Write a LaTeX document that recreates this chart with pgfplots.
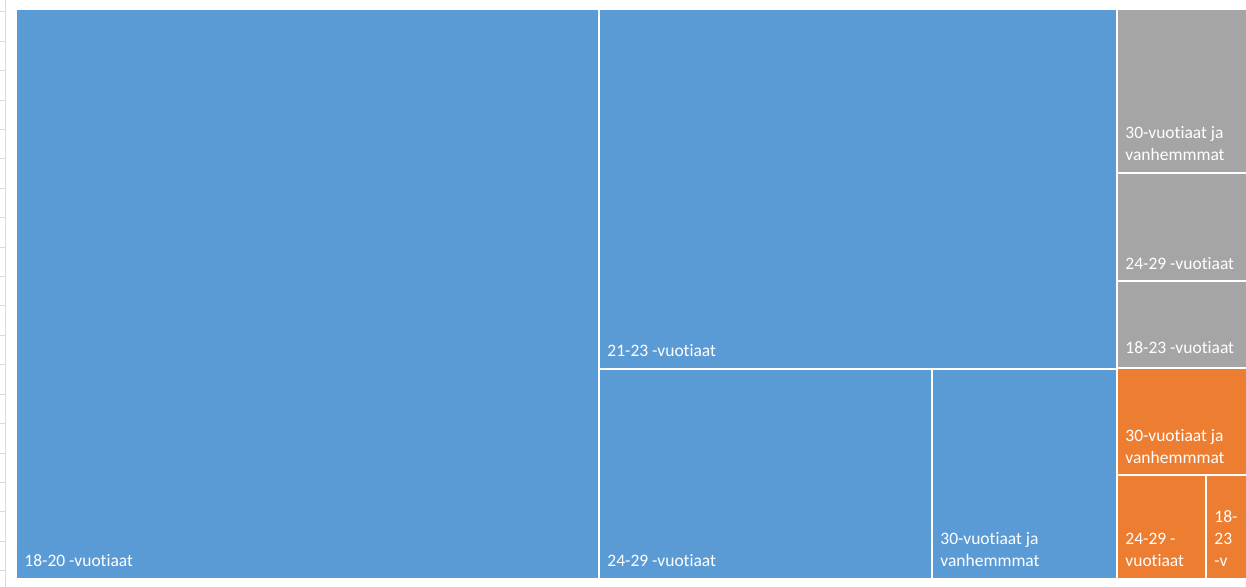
\documentclass[border=0pt]{standalone}
\usepackage{pgfplots}
\pgfplotsset{compat=1.18}
\usepackage{fontspec}
\setmainfont{Carlito}[Ligatures={NoCommon}]

\definecolor{tmblue}{HTML}{5B9BD5}
\definecolor{tmgray}{HTML}{A5A5A5}
\definecolor{tmorange}{HTML}{ED7D31}
\definecolor{cellgrid}{HTML}{D9D9D9}

\begin{document}
\begin{tikzpicture}[
    tile/.style={draw=white, line width=1pt},
    lbl/.style={anchor=base west, inner sep=0pt, text=white,
        font=\fontsize{8.75}{11}\selectfont},
]
\begin{axis}[
    scale only axis,
    width=623pt, height=293.5pt,
    xmin=0, xmax=1246,
    ymin=0, ymax=587,
    y dir=reverse,
    hide axis,
    clip=true,
    axis background/.style={fill=white},
]

% sheet gridlines at the left edge
\addplot[cellgrid, line width=0.5pt] coordinates {(5,0) (5,587)};
\foreach \gy in {12,41.4,70.8,100.2,129.6,159,188.4,217.8,247.2,276.6,
                 306,335.4,364.8,394.2,423.6,453,482.4,511.8,541.2,570.6} {
    \edef\tmp{\noexpand\addplot[cellgrid, line width=0.5pt] coordinates {(0,\gy) (5,\gy)};}
    \tmp
}

% blue group
\addplot[tile, fill=tmblue] coordinates {(15.5,9.5) (599,9.5) (599,578.5) (15.5,578.5)} -- cycle;
\addplot[tile, fill=tmblue] coordinates {(599,9.5) (1117,9.5) (1117,369) (599,369)} -- cycle;
\addplot[tile, fill=tmblue] coordinates {(599,369) (932,369) (932,578.5) (599,578.5)} -- cycle;
\addplot[tile, fill=tmblue] coordinates {(932,369) (1117,369) (1117,578.5) (932,578.5)} -- cycle;

% gray group
\addplot[tile, fill=tmgray] coordinates {(1117,9.5) (1262,9.5) (1262,173) (1117,173)} -- cycle;
\addplot[tile, fill=tmgray] coordinates {(1117,173) (1262,173) (1262,281) (1117,281)} -- cycle;
\addplot[tile, fill=tmgray] coordinates {(1117,281) (1262,281) (1262,367.5) (1117,367.5)} -- cycle;

% orange group
\addplot[tile, fill=tmorange] coordinates {(1117,367.5) (1262,367.5) (1262,475) (1117,475)} -- cycle;
\addplot[tile, fill=tmorange] coordinates {(1117,475) (1205.5,475) (1205.5,578.5) (1117,578.5)} -- cycle;
\addplot[tile, fill=tmorange] coordinates {(1205.5,475) (1262,475) (1262,578.5) (1205.5,578.5)} -- cycle;

% labels
\node[lbl] at (axis cs:24,566) {18-20 -vuotiaat};
\node[lbl] at (axis cs:607,357) {21-23 -vuotiaat};
\node[lbl] at (axis cs:607,566) {24-29 -vuotiaat};
\node[lbl] at (axis cs:940,544) {30-vuotiaat ja};
\node[lbl] at (axis cs:940,566) {vanhemmmat};

\node[lbl] at (axis cs:1125,139) {30-vuotiaat ja};
\node[lbl] at (axis cs:1125,161) {vanhemmmat};
\node[lbl] at (axis cs:1125,270) {24-29 -vuotiaat};
\node[lbl] at (axis cs:1125,354) {18-23 -vuotiaat};

\node[lbl] at (axis cs:1125,441) {30-vuotiaat ja};
\node[lbl] at (axis cs:1125,463) {vanhemmmat};
\node[lbl] at (axis cs:1125,544) {24-29 -};
\node[lbl] at (axis cs:1125,566) {vuotiaat};
\node[lbl] at (axis cs:1214,522) {18-};
\node[lbl] at (axis cs:1214,544) {23};
\node[lbl] at (axis cs:1214,566) {-v};

\end{axis}
\end{tikzpicture}
\end{document}
